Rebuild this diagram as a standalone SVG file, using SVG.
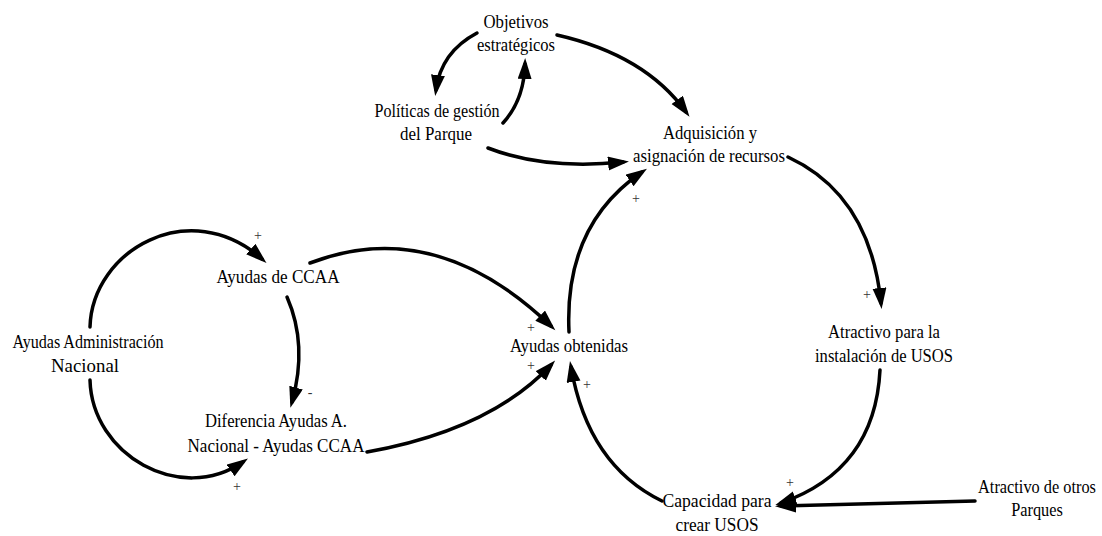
<svg xmlns="http://www.w3.org/2000/svg" width="1102" height="536" viewBox="0 0 1102 536">
  <style>
    .lbl { font-size: 19px; fill: #000; text-anchor: middle; }
    .sign { font-size: 14px; fill: #333; text-anchor: middle; }
    .link { fill: none; stroke: #000; stroke-width: 3.5; stroke-linecap: round; marker-end: url(#head); }
  </style>
  <defs>
    <marker id="head" markerUnits="userSpaceOnUse" markerWidth="23" markerHeight="15" refX="15" refY="7" orient="auto">
      <path d="M0,0 L21,7 L0,14 z" fill="#000"/>
    </marker>
  </defs>
  <rect width="1102" height="536" fill="#fff"/>

  <!-- causal links -->
  <g id="connectors">
    <path class="link" d="M477,33 Q441,52 436,90"/>
    <path class="link" d="M503,123 Q524,100 525,64"/>
    <path class="link" d="M557,35 Q645,55 686,112"/>
    <path class="link" d="M488,148 Q545,170 623,162"/>
    <path class="link" d="M569,332 Q564,225 642,172"/>
    <path class="link" d="M788,157 Q870,195 881,303"/>
    <path class="link" d="M880,370 Q875,470 781,503"/>
    <path class="link" d="M975,501 L781,506"/>
    <path class="link" d="M662,501 Q588,465 571,367"/>
    <path class="link" d="M310,263 Q435,215 551,326"/>
    <path class="link" d="M367,452 Q490,430 551,365"/>
    <path class="link" d="M90,327 C92,250 190,195 262,259"/>
    <path class="link" d="M287,297 Q308,345 292,402"/>
    <path class="link" d="M90,380 C92,455 180,505 243,462"/>
  </g>

  <!-- polarity signs -->
  <g id="signs" font-family="Liberation Serif, Times New Roman, serif">
    <text class="sign" x="258" y="240">+</text>
    <text class="sign" x="310" y="397">-</text>
    <text class="sign" x="237" y="491">+</text>
    <text class="sign" x="531" y="332">+</text>
    <text class="sign" x="531" y="370">+</text>
    <text class="sign" x="587" y="389">+</text>
    <text class="sign" x="790" y="487">+</text>
    <text class="sign" x="867" y="299">+</text>
    <text class="sign" x="636" y="203">+</text>
  </g>

  <g id="nodes" font-family="Liberation Serif, Times New Roman, serif">
    <g id="objetivos">
      <text class="lbl"><tspan x="516" y="28" textLength="65" lengthAdjust="spacingAndGlyphs">Objetivos</tspan><tspan x="516" y="51" textLength="78" lengthAdjust="spacingAndGlyphs">estratégicos</tspan></text>
    </g>
    <g id="politicas">
      <text class="lbl"><tspan x="437" y="117" textLength="125" lengthAdjust="spacingAndGlyphs">Políticas de gestión</tspan><tspan x="436" y="140" textLength="72" lengthAdjust="spacingAndGlyphs">del Parque</tspan></text>
    </g>
    <g id="adquisicion">
      <text class="lbl"><tspan x="710" y="139" textLength="94" lengthAdjust="spacingAndGlyphs">Adquisición y</tspan><tspan x="709" y="162" textLength="152" lengthAdjust="spacingAndGlyphs">asignación de recursos</tspan></text>
    </g>
    <g id="ayudas-ccaa">
      <text class="lbl"><tspan x="278" y="283" textLength="123" lengthAdjust="spacingAndGlyphs">Ayudas de CCAA</tspan></text>
    </g>
    <g id="ayudas-nacional">
      <text class="lbl"><tspan x="88" y="348" textLength="151" lengthAdjust="spacingAndGlyphs">Ayudas Administración</tspan><tspan x="85" y="372" textLength="68" lengthAdjust="spacingAndGlyphs">Nacional</tspan></text>
    </g>
    <g id="diferencia">
      <text class="lbl"><tspan x="276" y="427" textLength="142" lengthAdjust="spacingAndGlyphs">Diferencia Ayudas A.</tspan><tspan x="276" y="452" textLength="177" lengthAdjust="spacingAndGlyphs">Nacional - Ayudas CCAA</tspan></text>
    </g>
    <g id="ayudas-obtenidas">
      <text class="lbl"><tspan x="569" y="352" textLength="118" lengthAdjust="spacingAndGlyphs">Ayudas obtenidas</tspan></text>
    </g>
    <g id="atractivo-usos">
      <text class="lbl"><tspan x="884" y="338" textLength="112" lengthAdjust="spacingAndGlyphs">Atractivo para la</tspan><tspan x="884" y="362" textLength="138" lengthAdjust="spacingAndGlyphs">instalación de USOS</tspan></text>
    </g>
    <g id="capacidad">
      <text class="lbl"><tspan x="717" y="507" textLength="109" lengthAdjust="spacingAndGlyphs">Capacidad para</tspan><tspan x="717" y="531" textLength="83" lengthAdjust="spacingAndGlyphs">crear USOS</tspan></text>
    </g>
    <g id="atractivo-otros">
      <text class="lbl" transform="translate(1037 0) scale(0.86 1)"><tspan x="0" y="493">Atractivo de otros</tspan><tspan x="0" y="516">Parques</tspan></text>
    </g>
  </g>
</svg>
